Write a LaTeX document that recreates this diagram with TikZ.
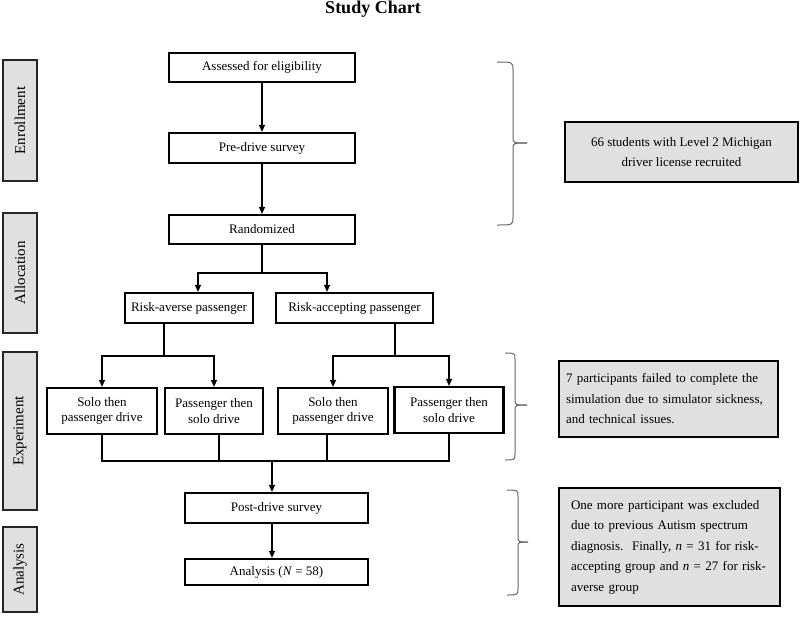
\documentclass[tikz,border=0pt]{standalone}
\usepackage{fontspec}
\setmainfont{Liberation Serif}
\usetikzlibrary{arrows.meta,calc}
\begin{document}
\begin{tikzpicture}[x=1pt,y=-1pt,
 flow/.style={draw,line width=2.2pt,fill=white,inner sep=0pt,align=center,font=\fontsize{13}{15.5}\selectfont},
 phase/.style={draw=black!85,line width=2.2pt,fill=black!12,rotate=90,inner sep=0pt,font=\fontsize{15}{18}\selectfont},
 note/.style={draw,line width=2.6pt,fill=black!12,inner ysep=0pt,font=\fontsize{13}{20.5}\selectfont},
 conn/.style={line width=1.1pt},
 arr/.style={conn,-{Triangle[length=7pt,width=6pt]}},
 bracestyle/.style={draw=black!60,line width=1pt}]
\useasboundingbox (0,0) rectangle (800,618);

\node[font=\bfseries\fontsize{18}{21}\selectfont] (title) at (373,9) {Study Chart};

% phase labels
\node[phase,minimum width=121,minimum height=34] (pEnr) at (20,120.5) {Enrollment};
\node[phase,minimum width=120,minimum height=34] (pAll) at (20,273) {Allocation};
\node[phase,minimum width=158,minimum height=34] (pExp) at (20,431) {Experiment};
\node[phase,minimum width=85,minimum height=34] (pAna) at (20,569.5) {Analysis};

% main flow
\node[flow,minimum width=186,minimum height=29] (assess) at (262,67.5) {Assessed for eligibility};
\node[flow,minimum width=186,minimum height=30] (pre) at (262,148) {Pre-drive survey};
\node[flow,minimum width=186,minimum height=29] (rand) at (262,229.5) {Randomized};
\node[flow,minimum width=128,minimum height=30] (ra) at (189,308) {Risk-averse passenger};
\node[flow,minimum width=157,minimum height=30] (rac) at (354.5,308) {Risk-accepting passenger};

\node[flow,minimum width=110,minimum height=46] (b1) at (102,411) {Solo then\\passenger drive};
\node[flow,minimum width=98,minimum height=46] (b2) at (214,411) {Passenger then\\solo drive};
\node[flow,minimum width=110,minimum height=46] (b3) at (333,411) {Solo then\\passenger drive};
\node[flow,minimum width=109,minimum height=46] (b4) at (449,410) {Passenger then\\solo drive};

\node[flow,minimum width=183,minimum height=30] (post) at (276.5,508) {Post-drive survey};
\node[flow,minimum width=183,minimum height=26] (ana) at (276.5,572) {Analysis (\textit{N} = 58)};

% notes
\node[note,inner xsep=0pt,minimum width=233,minimum height=60,align=center] (n1) at (681.5,152)
 {66 students with Level 2 Michigan\\driver license recruited};
\node[note,inner xsep=7pt,minimum height=76,align=left,text width=205] (n2) at (668.5,399)
 {7 participants failed to complete the\\simulation due to simulator sickness,\\and technical issues.};
\node[note,inner xsep=12pt,minimum height=118,align=left,text width=197] (n3) at (669.5,547)
 {One more participant was excluded\\due to previous Autism spectrum\\diagnosis.\ \ Finally, \textit{n} = 31 for risk-\\accepting group and \textit{n} = 27 for risk-\\averse group};

% connectors
\draw[arr] (assess) -- (pre);
\draw[arr] (pre) -- (rand);
\coordinate (raIn) at (198,273);
\coordinate (racIn) at (327,273);
\draw[arr] (rand.south) |- (raIn) -- (raIn |- ra.north);
\draw[arr] (rand.south) |- (racIn) -- (racIn |- rac.north);

\coordinate (raOut) at (164,356);
\coordinate (racOut) at (395,356);
\draw[arr] (raOut |- ra.south) -- (raOut) -| (b1.north);
\draw[arr] (raOut) -| (b2.north);
\draw[arr] (racOut |- rac.south) -- (racOut) -| (b3.north);
\draw[arr] (racOut) -| (b4.north);

\coordinate (jM) at (272,461);
\draw[conn] (b1.south) -- (b1.south |- jM) -- (b4.south |- jM) -- (b4.south);
\draw[conn] ($(b2.south)+(5,0)$) -- ($(b2.south |- jM)+(5,0)$);
\draw[conn] ($(b3.south)+(-6,0)$) -- ($(b3.south |- jM)+(-6,0)$);
\draw[arr] (jM) -- (jM |- post.north);
\draw[arr] (jM |- post.south) -- (jM |- ana.north);

% braces
\draw[bracestyle] (497,62) .. controls (513,62) .. (513,70) -- (513,137) .. controls (513,143) .. (527,143);
\draw[bracestyle] (527,143) .. controls (513,143) .. (513,149) -- (513,217) .. controls (513,225) .. (497,225);
\draw[bracestyle] (505,353) .. controls (515,353) .. (515,360) -- (515,399) .. controls (515,405) .. (527,405);
\draw[bracestyle] (527,405) .. controls (515,405) .. (515,411) -- (515,453) .. controls (515,460) .. (505,460);
\draw[bracestyle] (507,490) .. controls (518,490) .. (518,497) -- (518,536) .. controls (518,542) .. (528,542);
\draw[bracestyle] (528,542) .. controls (518,542) .. (518,548) -- (518,588) .. controls (518,595) .. (507,595);
\end{tikzpicture}
\end{document}
